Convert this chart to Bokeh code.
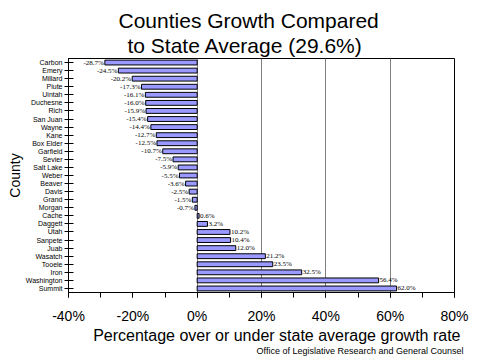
from bokeh.plotting import figure
from bokeh.models import FixedTicker, Title, ColumnDataSource, Range1d, FactorRange
from bokeh.embed import file_html
from bokeh.resources import INLINE

counties = ["Carbon", "Emery", "Millard", "Piute", "Uintah", "Duchesne", "Rich",
            "San Juan", "Wayne", "Kane", "Box Elder", "Garfield", "Sevier",
            "Salt Lake", "Weber", "Beaver", "Davis", "Grand", "Morgan", "Cache",
            "Daggett", "Utah", "Sanpete", "Juab", "Wasatch", "Tooele", "Iron",
            "Washington", "Summit"]
growth = [-28.7, -24.5, -20.2, -17.3, -16.1, -16.0, -15.9, -15.4, -14.4, -12.7,
          -12.5, -10.7, -7.5, -5.9, -5.5, -3.6, -2.5, -1.5, -0.7, 0.6, 3.2, 10.2,
          10.4, 12.0, 21.2, 23.5, 32.5, 56.4, 62.0]
x_ticks = [-40, -20, 0, 20, 40, 60, 80]
x_tick_labels = ["-40%", "-20%", "0%", "20%", "40%", "60%", "80%"]
x_minor = [-40, -30, -20, -10, 0, 10, 20, 30, 40, 50, 60, 70, 80]
grid_lines = [0, 20, 40, 60]
title_lines = ["Counties Growth Compared", "to State Average (29.6%)"]
x_title = "Percentage over or under state average growth rate"
footer = "Office of Legislative Research and General Counsel"

FONT = "Liberation Sans"

bar_labels = [f"{v:.1f}%" for v in growth]
neg = ColumnDataSource(dict(
    y=[c for c, v in zip(counties, growth) if v < 0],
    v=[v for v in growth if v < 0],
    t=[l for l, v in zip(bar_labels, growth) if v < 0]))
pos = ColumnDataSource(dict(
    y=[c for c, v in zip(counties, growth) if v >= 0],
    v=[v for v in growth if v >= 0],
    t=[l for l, v in zip(bar_labels, growth) if v >= 0]))
src = ColumnDataSource(dict(y=counties, v=growth))

p = figure(width=480, height=360, output_backend="svg", toolbar_location=None,
           x_range=Range1d(-40, 80), y_range=FactorRange(factors=list(reversed(counties))),
           min_border_left=68, min_border_right=26, min_border_top=58,
           min_border_bottom=68)

p.hbar(y="y", left=0, right="v", height=0.6, source=src,
       fill_color="#9999FF", line_color="black", line_width=1)

p.text(x="v", y="y", text="t", source=neg, text_align="right", text_baseline="middle",
       x_offset=-1, text_font_size="7px", text_font=FONT, text_color="black")
p.text(x="v", y="y", text="t", source=pos, text_align="left", text_baseline="middle",
       x_offset=1, text_font_size="7px", text_font=FONT, text_color="black")

p.outline_line_color = "black"
p.outline_line_width = 1
p.ygrid.visible = False
p.xgrid.ticker = FixedTicker(ticks=grid_lines)
p.xgrid.grid_line_color = "#808080"
p.xgrid.grid_line_width = 1

xa = p.xaxis[0]
xa.ticker = FixedTicker(ticks=x_ticks, minor_ticks=x_minor)
xa.major_label_overrides = {t: l for t, l in zip(x_ticks, x_tick_labels)}
xa.major_tick_in = 0
xa.major_tick_out = 5
xa.minor_tick_in = 0
xa.minor_tick_out = 5
xa.axis_line_color = "black"
xa.major_tick_line_color = "black"
xa.minor_tick_line_color = "black"
xa.major_label_text_font = FONT
xa.major_label_text_font_size = "14px"
xa.major_label_text_color = "black"
xa.major_label_standoff = 10

ya = p.yaxis[0]
ya.major_tick_in = 5
ya.major_tick_out = 4
ya.axis_line_color = "black"
ya.major_tick_line_color = "black"
ya.major_label_text_font = FONT
ya.major_label_text_font_size = "7px"
ya.major_label_text_color = "black"
ya.major_label_standoff = 2
ya.axis_label = "County"
ya.axis_label_text_font = FONT
ya.axis_label_text_font_size = "14px"
ya.axis_label_text_font_style = "normal"
ya.axis_label_text_color = "black"
ya.axis_label_standoff = 0

p.add_layout(Title(text=x_title, align="right", vertical_align="top",
                   text_font=FONT, text_font_size="16px", text_font_style="normal",
                   text_color="black", standoff=0, offset=-6), "below")
p.add_layout(Title(text=footer, align="right", vertical_align="top",
                   text_font=FONT, text_font_size="9px", text_font_style="normal",
                   text_color="black", standoff=0, offset=-9), "below")

p.add_layout(Title(text=title_lines[1], align="left", vertical_align="top",
                   text_font=FONT, text_font_size="21px", text_font_style="normal",
                   text_color="black", standoff=0, offset=59), "above")
p.add_layout(Title(text=title_lines[0], align="left", vertical_align="top",
                   text_font=FONT, text_font_size="21px", text_font_style="normal",
                   text_color="black", standoff=0, offset=50), "above")

p.background_fill_color = "white"
p.border_fill_color = "white"

open("out.html", "w").write(file_html(p, INLINE))
